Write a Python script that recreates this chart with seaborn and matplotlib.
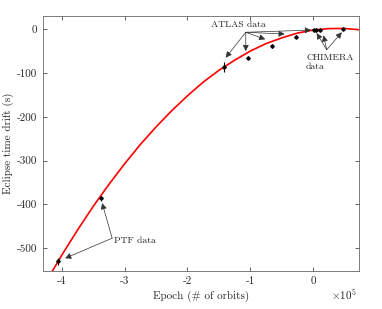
import numpy as np
import pandas as pd
import matplotlib
matplotlib.use('Agg')
import matplotlib.pyplot as plt
from matplotlib.ticker import FuncFormatter, MultipleLocator
import seaborn as sns

# quadratic ephemeris curve (epoch in orbits, drift in s)
curve_epoch = [-4.30e5, -4.00e5, -3.75e5, -3.50e5, -3.25e5, -3.00e5, -2.75e5,
               -2.50e5, -2.25e5, -2.00e5, -1.75e5, -1.50e5, -1.25e5, -1.00e5,
               -0.75e5, -0.50e5, -0.25e5, 0.0, 0.25e5, 0.50e5, 0.75e5]
curve_drift = [-588, -515, -458, -404, -354, -307, -263,
               -223, -186, -152, -121, -94, -71, -50,
               -33, -20, -9, -2, 1.4, 1.7, -1.3]

# eclipse timings
ptf_epoch = [-4.07e5, -3.38e5]
ptf_drift = [-530, -386]
ptf_err = [8, 6]

atlas_epoch = [-1.42e5, -1.03e5, -0.65e5, -0.27e5, 0.02e5]
atlas_drift = [-86, -65, -38, -17, -2]
atlas_err = [11, 4, 4, 4, 2]

chimera_epoch = [0.05e5, 0.12e5, 0.48e5]
chimera_drift = [-2, -2, 1]
chimera_err = [2, 2, 2]

sns.set_style('ticks')
plt.rcParams['font.family'] = 'serif'
plt.rcParams['font.serif'] = ['cmr10', 'DejaVu Serif']
plt.rcParams['mathtext.fontset'] = 'cm'
plt.rcParams['axes.unicode_minus'] = False

fig = plt.figure(figsize=(3.82, 3.09), dpi=100)
ax = fig.add_axes([0.113, 0.123, 0.826, 0.825])

curve = pd.DataFrame({'epoch': curve_epoch, 'drift': curve_drift})
sns.lineplot(data=curve, x='epoch', y='drift', color='red', linewidth=1.2, ax=ax)

for ep, dr, er in [(ptf_epoch, ptf_drift, ptf_err),
                   (atlas_epoch, atlas_drift, atlas_err),
                   (chimera_epoch, chimera_drift, chimera_err)]:
    ax.errorbar(ep, dr, yerr=er, fmt='D', color='black', markersize=1.8,
                elinewidth=0.8, capsize=0, zorder=3)

arrow = dict(arrowstyle='-|>', color='#333333', lw=0.5, mutation_scale=9,
             shrinkA=0, shrinkB=0)

# ATLAS labels
ax.text(-1.19e5, 9, 'ATLAS data', fontsize=7, ha='center', va='center')
for tip in [(-1.39e5, -65), (-1.07e5, -50), (-0.76e5, -23), (-0.45e5, -11), (-0.03e5, -2)]:
    ax.annotate('', xy=tip, xytext=(-1.07e5, -7), arrowprops=arrow)

# CHIMERA labels
ax.text(-0.11e5, -55, 'CHIMERA\ndata', fontsize=7, ha='left', va='top', linespacing=1.1)
for tip in [(0.06e5, -9), (0.17e5, -14), (0.46e5, -7)]:
    ax.annotate('', xy=tip, xytext=(0.22e5, -47), arrowprops=arrow)

# PTF labels
ax.text(-3.17e5, -483, 'PTF data', fontsize=7, ha='left', va='center')
for tip in [(-3.36e5, -397), (-3.95e5, -523)]:
    ax.annotate('', xy=tip, xytext=(-3.2e5, -477), arrowprops=arrow)

ax.set_xlim(-4.3e5, 0.73e5)
ax.set_ylim(-552, 30)
ax.xaxis.set_major_locator(MultipleLocator(1e5))
ax.yaxis.set_major_locator(MultipleLocator(100))
ax.xaxis.set_major_formatter(FuncFormatter(lambda v, p: '%d' % round(v / 1e5)))
ax.yaxis.set_major_formatter(FuncFormatter(lambda v, p: '%d' % round(v)))
ax.tick_params(direction='in', length=3, width=0.5, colors='#262626',
               labelsize=8, top=True, right=True, pad=4)
for s in ax.spines.values():
    s.set_visible(True)
    s.set_color('#666666')
    s.set_linewidth(0.6)

ax.set_xlabel('Epoch (# of orbits)', fontsize=8, labelpad=3)
ax.set_ylabel('Eclipse time drift (s)', fontsize=8, labelpad=2)
ax.text(0.995, -0.092, r'$\times10^{5}$', transform=ax.transAxes, fontsize=8,
        ha='right', va='center', color='#262626')

fig.savefig('out.png', dpi=100)
